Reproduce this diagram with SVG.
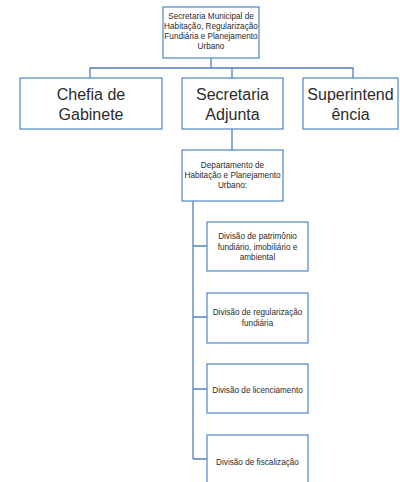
<svg xmlns="http://www.w3.org/2000/svg" width="400" height="482" viewBox="0 0 400 482">
  <style>
    .box { fill: #ffffff; stroke: #5b8fcb; stroke-width: 1.3; }
    .wire { fill: none; stroke: #4f7fba; stroke-width: 1.3; }
    text { font-family: "Liberation Sans", Arial, sans-serif; fill: #2b2b2b; text-anchor: middle; }
    .s { font-size: 8.2px; }
    .l { font-size: 16px; }
  </style>
  <rect width="400" height="482" fill="#ffffff"/>

  <g id="connectors">
    <path class="wire" d="M211 58 V68 M90 78 V68 H353 V78 M232 68 V78"/>
    <path class="wire" d="M232 129 V150"/>
    <path class="wire" d="M193 201 V459 M193 246 H207 M193 317 H207 M193 389 H207 M193 459 H207"/>
  </g>

  <g id="secretaria-municipal">
    <rect class="box" x="163" y="7" width="96" height="51"/>
    <text class="s" x="211" y="19">Secretaria Municipal de</text>
    <text class="s" x="211" y="29">Habitação, Regularização</text>
    <text class="s" x="211" y="39">Fundiária e Planejamento</text>
    <text class="s" x="211" y="49">Urbano</text>
  </g>

  <g id="chefia-gabinete">
    <rect class="box" x="20" y="78" width="142" height="51"/>
    <text class="l" x="91" y="100">Chefia de</text>
    <text class="l" x="91" y="120">Gabinete</text>
  </g>

  <g id="secretaria-adjunta">
    <rect class="box" x="182" y="78" width="101" height="51"/>
    <text class="l" x="232.5" y="100">Secretaria</text>
    <text class="l" x="232.5" y="120">Adjunta</text>
  </g>

  <g id="superintendencia">
    <rect class="box" x="303" y="78" width="95" height="51"/>
    <text class="l" x="350.5" y="100">Superintend</text>
    <text class="l" x="350.5" y="120">ência</text>
  </g>

  <g id="departamento">
    <rect class="box" x="182" y="150" width="101" height="51"/>
    <text class="s" x="232.5" y="168">Departamento  de</text>
    <text class="s" x="232.5" y="178">Habitação  e  Planejamento</text>
    <text class="s" x="232.5" y="188">Urbano:</text>
  </g>

  <g id="div-patrimonio">
    <rect class="box" x="207" y="222" width="101" height="49"/>
    <text class="s" x="257.5" y="239">Divisão de patrimônio</text>
    <text class="s" x="257.5" y="250">fundiário, imobiliário  e</text>
    <text class="s" x="257.5" y="260">ambiental</text>
  </g>

  <g id="div-regularizacao">
    <rect class="box" x="207" y="293" width="101" height="50"/>
    <text class="s" x="257.5" y="315">Divisão de regularização</text>
    <text class="s" x="257.5" y="326">fundiária</text>
  </g>

  <g id="div-licenciamento">
    <rect class="box" x="207" y="364" width="101" height="49"/>
    <text class="s" x="257.5" y="393">Divisão de licenciamento</text>
  </g>

  <g id="div-fiscalizacao">
    <rect class="box" x="207" y="435" width="101" height="60"/>
    <text class="s" x="257.5" y="465">Divisão de fiscalização</text>
  </g>
</svg>
